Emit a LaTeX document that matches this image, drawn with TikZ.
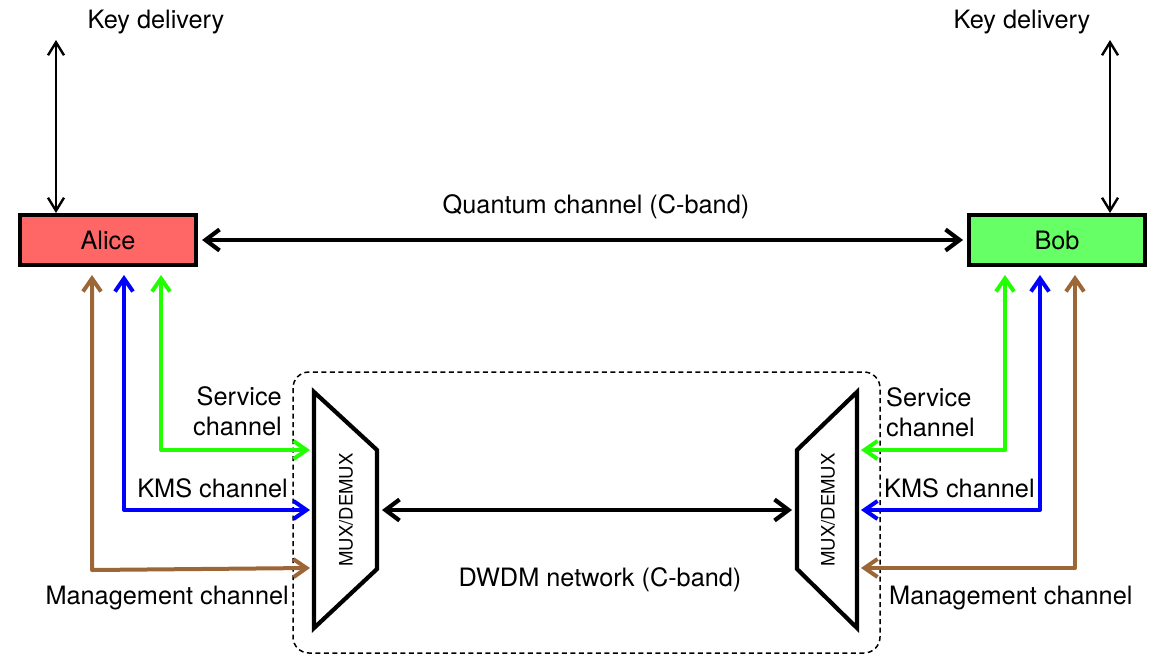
\documentclass[tikz,border=0pt]{standalone}
\usepackage{fontspec}
\setmainfont{TeX Gyre Heros}
\usetikzlibrary{arrows.meta,calc}
\definecolor{alicered}{HTML}{FF6666}
\definecolor{bobgreen}{HTML}{66FF66}
\definecolor{svcgreen}{HTML}{22FF00}
\definecolor{kmsblue}{HTML}{0000FF}
\definecolor{mgmtbrown}{HTML}{9C6636}
\tikzset{
  party/.style={draw=black, line width=4pt, minimum width=176pt, minimum height=50pt, inner sep=0pt, font=\fontsize{25.3}{30}\selectfont},
  lbl/.style={font=\fontsize{25.3}{30}\selectfont, inner sep=0pt},
  muxlbl/.style={font=\fontsize{18.5}{22}\selectfont, inner sep=0pt, rotate=90},
  keyarr/.style={line width=2.4pt, {Straight Barb[length=13pt,width=16pt]}-{Straight Barb[length=13pt,width=16pt]}},
  bigarr/.style={line width=4.2pt, {Straight Barb[length=14pt,width=21pt]}-{Straight Barb[length=14pt,width=21pt]}},
  chan/.style={line width=4pt, line join=round, {Straight Barb[length=13pt,width=18pt]}-{Straight Barb[length=13pt,width=18pt]}},
  muxshape/.style={draw=black, line width=4.2pt, line join=miter},
}
\begin{document}
\begin{tikzpicture}[x=1pt,y=-1pt]
\useasboundingbox (0,0) rectangle (1150,655);
% boxes
\node[party, fill=alicered] (alice) at (108,240) {Alice};
\node[party, fill=bobgreen] (bob) at (1057,240) {Bob};
% key delivery
\coordinate (kdl) at (56,40);
\coordinate (kdr) at (1110,40);
\node[lbl] (kdlabell) at (156,22) {Key delivery};
\node[lbl] (kdlabelr) at (1022,22) {Key delivery};
\draw[keyarr] (kdl) -- (kdl |- alice.north);
\draw[keyarr] (kdr) -- (kdr |- bob.north);
% quantum channel
\draw[bigarr] ([xshift=4pt]alice.east) -- ([xshift=-4pt]bob.west);
\node[lbl] (qlabel) at (596,207) {Quantum channel (C-band)};
% DWDM network
\draw[dash pattern=on 5pt off 3.5pt, line width=1.5pt, rounded corners=16pt] (293,372) rectangle (880,653);
\node[lbl] (dwdm) at (600,580) {DWDM network (C-band)};
% MUX shapes
\draw[muxshape] (314,392) -- (377,450) -- (377,569) -- (314,628) -- cycle;
\draw[muxshape] (857,392) -- (797,450) -- (797,569) -- (857,628) -- cycle;
\node[muxlbl] (muxl) at (346,510) {MUX/DEMUX};
\node[muxlbl] (muxr) at (828,510) {MUX/DEMUX};
% connection points
\coordinate (gl) at (161,275);
\coordinate (bl) at (124,275);
\coordinate (ol) at (92,275);
\coordinate (gr) at (1005,275);
\coordinate (br) at (1040,275);
\coordinate (or) at (1075,275);
\coordinate (mlg) at (310,450);
\coordinate (mlb) at (310,510);
\coordinate (mlo) at (310,568);
\coordinate (mrg) at (861,450);
\coordinate (mrb) at (861,510);
\coordinate (mro) at (861,568);
\draw[bigarr] (382,510) coordinate (mli) -- (792,510) coordinate (mri);
% left channels
\draw[chan, draw=svcgreen] (gl) |- (mlg);
\draw[chan, draw=kmsblue] (bl) |- (mlb);
\draw[chan, draw=mgmtbrown] (ol) -- (92,570) -- (mlo);
% right channels
\draw[chan, draw=svcgreen] (gr) |- (mrg);
\draw[chan, draw=kmsblue] (br) |- (mrb);
\draw[chan, draw=mgmtbrown] (or) |- (mro);
% labels
\node[lbl, align=right, anchor=east] (svcl) at (282,411) {Service\\channel};
\node[lbl, anchor=east] (kmsl) at (288,488) {KMS channel};
\node[lbl, anchor=east] (mgl) at (289,598) {Management channel};
\node[lbl, align=left, anchor=west] (svcr) at (886,412) {Service\\channel};
\node[lbl, anchor=west] (kmsr) at (884,488) {KMS channel};
\node[lbl, anchor=west] (mgr) at (889,598) {Management channel};
\end{tikzpicture}
\end{document}
